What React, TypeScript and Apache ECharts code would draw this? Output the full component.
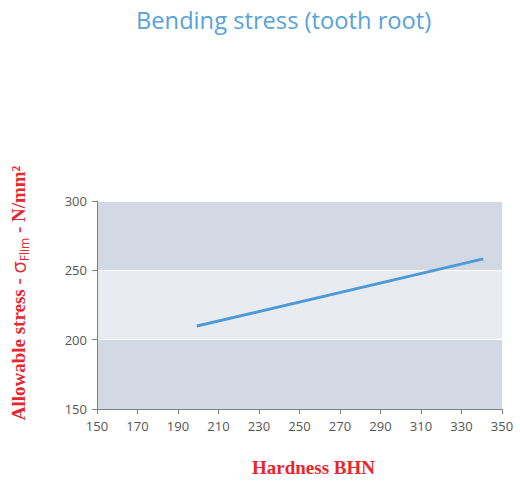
import React, { useEffect, useRef } from "react";
import * as echarts from "echarts";

const hardness = [200, 340];
const stress = [210, 258];
const xTicks = [150, 350, 20];
const yTicks = [150, 300, 50];

export default function App() {
  const ref = useRef<HTMLDivElement>(null);
  useEffect(() => {
    document.body.style.margin = "0";
    const chart = echarts.init(ref.current!, null, { renderer: "svg" });
    const red = "#e8262b";
    chart.setOption({
      animation: false,
      title: {
        text: "Bending stress (tooth root)",
        left: 131,
        top: 3,
        textStyle: { color: "#56a3d9", fontSize: 23.7, fontWeight: "normal", fontFamily: "Open Sans" },
      },
      grid: { left: 97, right: 18, top: 201, bottom: 73 },
      xAxis: {
        type: "value",
        min: xTicks[0],
        max: xTicks[1],
        interval: xTicks[2],
        name: "Hardness BHN",
        nameLocation: "middle",
        nameGap: 49,
        nameTextStyle: {
          color: red,
          fontFamily: "Liberation Serif",
          fontWeight: "bold",
          fontSize: 19,
          padding: [0, 0, 0, 28],
        },
        axisLine: { show: true, lineStyle: { color: "#808080" } },
        axisTick: { show: true, length: 5, lineStyle: { color: "#808080" } },
        axisLabel: { color: "#555", fontSize: 13, fontFamily: "Open Sans", margin: 10 },
        splitLine: { show: false },
      },
      yAxis: {
        type: "value",
        min: yTicks[0],
        max: yTicks[1],
        interval: yTicks[2],
        name: "{b|Allowable stress - }{s|σ}{sub|Flim}{b| - N/mm²}",
        nameLocation: "middle",
        nameGap: 67,
        nameTextStyle: {
          color: red,
          padding: [0, 0, 0, 24],
          rich: {
            b: { color: red, fontFamily: "Liberation Serif", fontWeight: "bold", fontSize: 19 },
            s: { color: red, fontFamily: "Open Sans", fontSize: 20 },
            sub: { color: red, fontFamily: "Open Sans", fontSize: 12, padding: [12, 0, 0, 0] },
          },
        },
        axisLine: { show: true, lineStyle: { color: "#808080" } },
        axisTick: { show: true, length: 5, lineStyle: { color: "#808080" } },
        axisLabel: { color: "#555", fontSize: 13, fontFamily: "Open Sans", margin: 10 },
        splitLine: { show: true, lineStyle: { color: "#ffffff", width: 1 } },
        splitArea: { show: true, areaStyle: { color: ["#d3d9e3", "#e8ebf0"] } },
      },
      series: [
        {
          type: "line",
          data: hardness.map((h, i) => [h, stress[i]]),
          showSymbol: false,
          lineStyle: { color: "#4d9ad6", width: 3, cap: "square" },
        },
      ],
    });
    return () => chart.dispose();
  }, []);
  return <div ref={ref} style={{ width: 520, height: 482 }} />;
}
